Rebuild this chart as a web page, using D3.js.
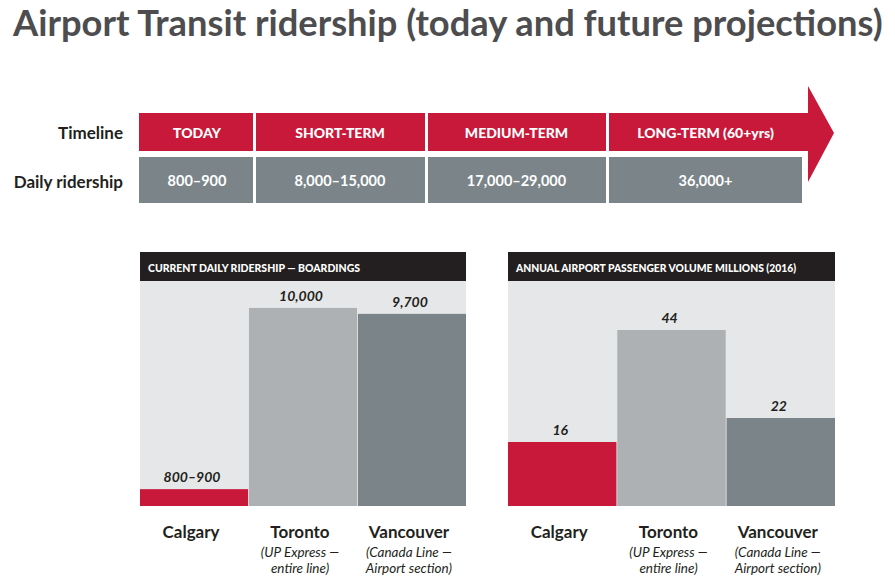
<!DOCTYPE html>
<html>
<head>
<meta charset="utf-8">
<script src="https://cdn.jsdelivr.net/npm/d3@7"></script>
<style>
  body { margin: 0; background: #fff; }
  svg { display: block; font-family: "Lato", "Open Sans", sans-serif; }
</style>
</head>
<body>
<div id="chart"></div>
<script>
// data
const phases = ["TODAY", "SHORT-TERM", "MEDIUM-TERM", "LONG-TERM (60+yrs)"];
const phaseRidership = ["800–900", "8,000–15,000", "17,000–29,000", "36,000+"];
const cities = ["Calgary", "Toronto", "Vancouver"];
const citySubs = [[], ["(UP Express —", "entire line)"], ["(Canada Line —", "Airport section)"]];
const boardings = [850, 10000, 9700];
const boardingLabels = ["800–900", "10,000", "9,700"];
const passengers = [16, 44, 22];
const passengerLabels = ["16", "44", "22"];

// layout
const W = 895, H = 580;
const red = "#c8193a", dark = "#231f20", slate = "#7b8589", silver = "#adb1b4", panel = "#e6e7e8";
const barColors = [red, silver, slate];
const phaseEdges = [139, 253, 425, 606, 803];

const svg = d3.select("#chart")
  .append("svg")
    .attr("width", W)
    .attr("height", H);

// title squeezed horizontally to the reference width
const title = svg.append("text")
    .attr("x", 0)
    .attr("y", 0)
    .style("font-size", "36px")
    .style("font-weight", 700)
    .style("fill", "#4d4d4f")
    .text("Airport Transit ridership (today and future projections)");
const natural = title.node().getComputedTextLength();
title.attr("transform", `translate(13,36) scale(${870 / natural},1)`);

// timeline row
const rowTop = 113, rowMid = 151, row2Top = 157, row2Bot = 203;

svg.append("path")
    .attr("d", `M${phaseEdges[3] + 3},${rowTop} H808 V86 L834,133 L808,182 V${rowMid} H${phaseEdges[3] + 3} Z`)
    .attr("fill", red);

const cells = svg.selectAll(".phase")
  .data(phases)
  .enter()
  .append("g");

cells.filter((d, i) => i < 3)
  .append("rect")
    .attr("x", (d, i) => phaseEdges[i] + (i ? 3 : 0))
    .attr("y", rowTop)
    .attr("width", (d, i) => phaseEdges[i + 1] - phaseEdges[i] - (i ? 3 : 0))
    .attr("height", rowMid - rowTop)
    .attr("fill", red);

cells.append("rect")
    .attr("x", (d, i) => phaseEdges[i] + (i ? 3 : 0))
    .attr("y", row2Top)
    .attr("width", (d, i) => phaseEdges[i + 1] - phaseEdges[i] - (i ? 3 : 0) - (i === 3 ? 1 : 0))
    .attr("height", row2Bot - row2Top)
    .attr("fill", slate);

cells.append("text")
    .attr("x", (d, i) => (phaseEdges[i] + phaseEdges[i + 1]) / 2 + 1)
    .attr("y", 138)
    .attr("text-anchor", "middle")
    .style("font-size", "14px")
    .style("font-weight", 900)
    .style("fill", "#fff")
    .text(d => d);

cells.append("text")
    .attr("x", (d, i) => (phaseEdges[i] + phaseEdges[i + 1]) / 2 + 1)
    .attr("y", 186)
    .attr("text-anchor", "middle")
    .style("font-size", "14.5px")
    .style("font-weight", 700)
    .style("fill", "#fff")
    .text((d, i) => phaseRidership[i]);

svg.append("text")
    .attr("x", 123).attr("y", 139)
    .attr("text-anchor", "end")
    .style("font-size", "17px").style("font-weight", 700).style("fill", dark)
    .text("Timeline");

svg.append("text")
    .attr("x", 123).attr("y", 188)
    .attr("text-anchor", "end")
    .style("font-size", "17px").style("font-weight", 700).style("fill", dark)
    .text("Daily ridership");

// bar panels
const headTop = 252, plotTop = 281, plotBot = 506;

function panelChart(x0, x1, title, titleLen, values, labels, maxVal) {
  const g = svg.append("g");

  g.append("rect")
      .attr("x", x0).attr("y", headTop)
      .attr("width", x1 - x0).attr("height", plotTop - headTop)
      .attr("fill", dark);

  g.append("text")
      .attr("x", x0 + 8).attr("y", 272)
      .attr("textLength", titleLen)
      .attr("lengthAdjust", "spacingAndGlyphs")
      .style("font-size", "11px").style("font-weight", 900).style("fill", "#fff")
      .text(title);

  g.append("rect")
      .attr("x", x0).attr("y", plotTop)
      .attr("width", x1 - x0).attr("height", plotBot - plotTop)
      .attr("fill", panel);

  const x = d3.scaleBand()
    .domain(cities)
    .range([x0, x1])
    .paddingInner(0.008);

  const y = d3.scaleLinear()
    .domain([0, maxVal])
    .range([plotBot, plotTop]);

  g.selectAll(".bar")
    .data(values)
    .enter()
    .append("rect")
      .attr("x", (d, i) => x(cities[i]))
      .attr("y", d => y(d))
      .attr("width", x.bandwidth())
      .attr("height", d => plotBot - y(d))
      .attr("fill", (d, i) => barColors[i]);

  g.selectAll(".val")
    .data(values)
    .enter()
    .append("text")
      .attr("x", (d, i) => x(cities[i]) + x.bandwidth() / 2 - 2)
      .attr("y", d => y(d) - 7)
      .attr("text-anchor", "middle")
      .style("font-size", "14px")
      .style("font-weight", 700)
      .style("font-style", "italic")
      .style("fill", dark)
      .text((d, i) => labels[i]);

  const cat = g.selectAll(".cat")
    .data(cities)
    .enter()
    .append("g");

  cat.append("text")
      .attr("x", d => x(d) + x.bandwidth() / 2 - 3)
      .attr("y", 538)
      .attr("text-anchor", "middle")
      .style("font-size", "17px")
      .style("font-weight", 700)
      .style("fill", dark)
      .text(d => d);

  cat.selectAll(".sub")
    .data((d, i) => citySubs[i].map(s => ({ city: d, s })))
    .enter()
    .append("text")
      .attr("x", d => x(d.city) + x.bandwidth() / 2 - 3)
      .attr("y", (d, j) => 557 + j * 16)
      .attr("text-anchor", "middle")
      .style("font-size", "13.5px")
      .style("font-style", "italic")
      .style("fill", dark)
      .text(d => d.s);
}

panelChart(140, 466, "CURRENT DAILY RIDERSHIP — BOARDINGS", 212, boardings, boardingLabels, 11360);
panelChart(508, 835, "ANNUAL AIRPORT PASSENGER VOLUME MILLIONS (2016)", 280, passengers, passengerLabels, 56.25);
</script>
</body>
</html>
